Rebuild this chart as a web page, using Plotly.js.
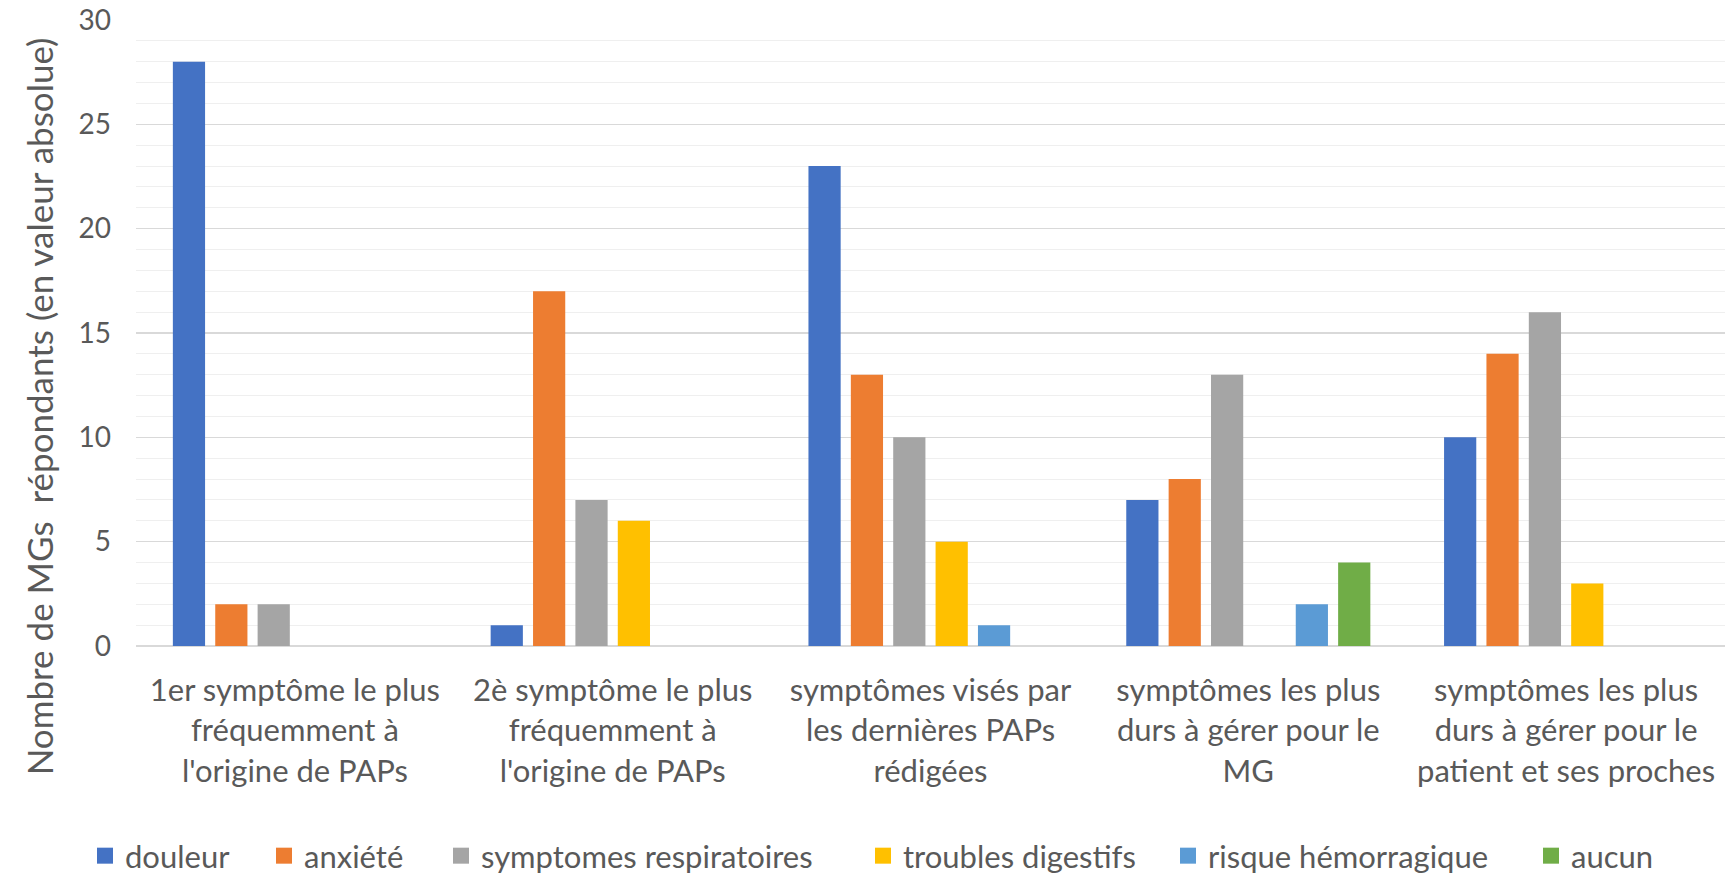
<!DOCTYPE html>
<html>
<head>
<meta charset="utf-8">
<script src="https://cdn.plot.ly/plotly-3.0.1.min.js"></script>
<style>html,body{margin:0;padding:0;background:#fff;}#chart{width:1732px;height:875px;}</style>
</head>
<body>
<div id="chart"></div>
<script>
const categories = [
  "1er symptôme le plus<br>fréquemment à<br>l'origine de PAPs",
  "2è symptôme le plus<br>fréquemment à<br>l'origine de PAPs",
  "symptômes visés par<br>les dernières PAPs<br>rédigées",
  "symptômes les plus<br>durs à gérer pour le<br>MG",
  "symptômes les plus<br>durs à gérer pour le<br>patient et ses proches"
];
const seriesNames = ["douleur", "anxiété", "symptomes respiratoires", "troubles digestifs", "risque hémorragique", "aucun"];
const douleur = [28, 1, 23, 7, 10];
const anxiete = [2, 17, 13, 8, 14];
const respiratoires = [2, 7, 10, 13, 16];
const digestifs = [0, 6, 5, 0, 3];
const hemorragique = [0, 0, 1, 2, 0];
const aucun = [0, 0, 0, 4, 0];
const colors = ["#4472C4", "#ED7D31", "#A5A5A5", "#FFC000", "#5B9BD5", "#70AD47"];
const values = [douleur, anxiete, respiratoires, digestifs, hemorragique, aucun];
const yTitle = "Nombre de MGs  répondants (en valeur absolue)";

const FONT = "Lato, 'Open Sans', sans-serif";
const GREY = "#595959";
const W = 1732, H = 875, ML = 136, MR = 7, MT = 20, MB = 229;
const plotW = W - ML - MR;

// legend entry positions (px from left of figure)
const legendPx = [85, 264, 441, 863, 1168, 1531];
const legendIds = ["legend", "legend2", "legend3", "legend4", "legend5", "legend6"];

const barTraces = values.map((v, i) => ({
  type: "bar",
  name: seriesNames[i],
  x: categories,
  y: v,
  marker: {color: colors[i], line: {width: 0}},
  showlegend: false,
  hoverinfo: "y+name"
}));
const legendTraces = seriesNames.map((n, i) => ({
  type: "scatter", mode: "markers",
  name: n,
  x: [null], y: [null],
  marker: {symbol: "square", size: 16, color: colors[i]},
  showlegend: true,
  legend: legendIds[i],
  hoverinfo: "skip"
}));

const layout = {
  width: W, height: H,
  margin: {l: ML, r: MR, t: MT, b: MB, autoexpand: false},
  paper_bgcolor: "#ffffff", plot_bgcolor: "#ffffff",
  font: {family: FONT, color: GREY, size: 31},
  barmode: "group",
  bargap: 0.2,
  bargroupgap: 0.24,
  showlegend: true,
  xaxis: {
    type: "category",
    showgrid: false, zeroline: false, showline: false,
    ticks: "", tickangle: 0, automargin: false,
    tickfont: {family: FONT, size: 31, color: GREY},
    ticklabelstandoff: 23
  },
  yaxis: {
    range: [0, 30], dtick: 5, tick0: 0, automargin: false,
    showgrid: true, gridcolor: "#d9d9d9", gridwidth: 1.5,
    zeroline: true, zerolinecolor: "#d9d9d9", zerolinewidth: 1.5,
    showline: false, ticks: "",
    tickfont: {family: FONT, size: 28, color: GREY},
    ticklabelstandoff: 24,
    minor: {dtick: 1, showgrid: true, gridcolor: "#efefef", gridwidth: 1}
  },
  annotations: [{
    text: yTitle, textangle: -90, showarrow: false,
    xref: "paper", yref: "paper", x: -0.061, y: 0.383,
    xanchor: "center", yanchor: "middle",
    font: {family: FONT, size: 35, color: GREY}
  }]
};
legendIds.forEach((id, i) => {
  layout[id] = {
    orientation: "h",
    x: (legendPx[i] - ML) / plotW, xanchor: "left",
    y: -0.3355, yanchor: "middle",
    font: {family: FONT, size: 31, color: GREY},
    itemwidth: 30, bgcolor: "rgba(0,0,0,0)"
  };
});

Plotly.newPlot("chart", barTraces.concat(legendTraces), layout, {displayModeBar: false, staticPlot: true});
</script>
</body>
</html>
